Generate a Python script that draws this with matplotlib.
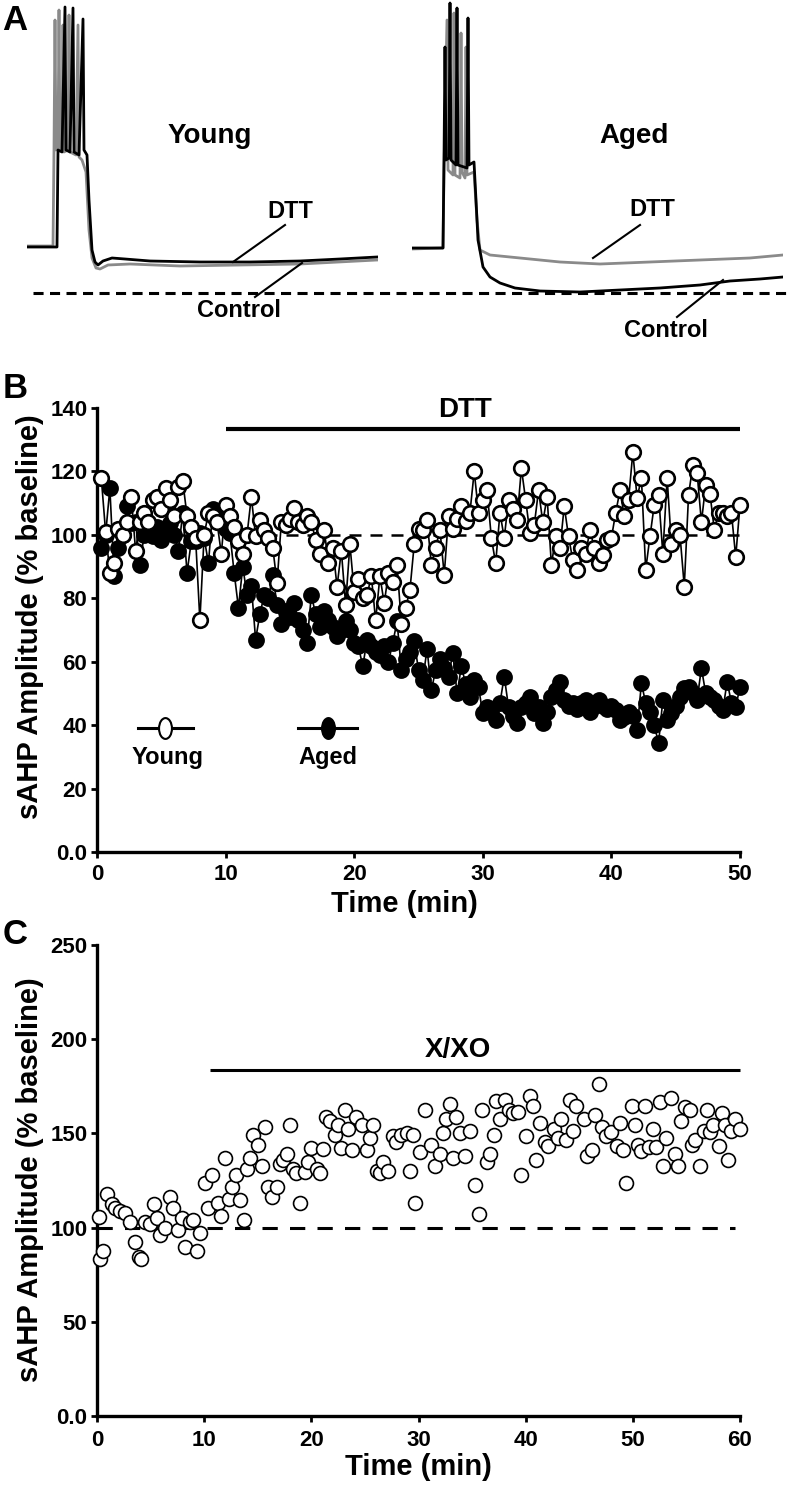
import numpy as np
import matplotlib
matplotlib.use('Agg')
import matplotlib.pyplot as plt
from matplotlib.lines import Line2D
from matplotlib.path import Path
from matplotlib.transforms import Affine2D

plt.rcParams['font.family'] = ['Liberation Sans', 'DejaVu Sans']
plt.rcParams['font.weight'] = 'bold'

# ---------------- Panel A: example traces (time in ms, membrane potential in mV) ----
young_dtt_t = [0, 150, 155, 175, 190, 195, 215, 230, 235, 260, 280, 285, 300, 310, 325,
               340, 355, 380, 425, 490, 615, 865, 1115, 1365, 1565, 1750]
young_dtt_v = [-60, -60, -35.75, -36.25, 0, -35.75, -36.25, -0.25, -36.25, -37, -3, -35.75,
               -37, -48.25, -60.75, -63.75, -64.5, -63.5, -62.75, -63, -63.5, -63.75,
               -63.75, -63.5, -63, -62.5]
young_ctrl_t = [0, 130, 135, 140, 145, 155, 160, 165, 175, 180, 185, 205, 210, 215, 245,
                255, 260, 275, 295, 310, 325, 345, 365, 405, 515, 765, 1065, 1365, 1750]
young_ctrl_v = [-59.75, -59.75, -35.75, -3.25, -35.75, -35.25, -0.75, -35.75, -35.75, -4.5,
                -36.25, -35.75, -2, -36.25, -37, -4.5, -37.5, -38.25, -41.25, -55.75,
                -62.75, -65.25, -65.5, -64.5, -64.25, -64.75, -64.5, -64.25, -63.25]
aged_ctrl_t = [0, 155, 160, 165, 170, 185, 190, 195, 220, 225, 230, 275, 280, 285, 310,
               320, 330, 355, 390, 440, 515, 640, 840, 1040, 1240, 1440, 1590, 1740, 1855]
aged_ctrl_v = [-60, -60, -38, -9.75, -38, -37.5, 1.25, -38, -39.25, 0, -39.25, -40, -2.5,
               -39.25, -38.5, -48, -58, -64.75, -67.25, -68.75, -70, -70.75, -71, -70.5,
               -70, -69.25, -68.25, -67.75, -67.25]
aged_dtt_t = [0, 155, 160, 175, 180, 205, 210, 215, 240, 245, 250, 265, 270, 275, 310,
              325, 340, 390, 540, 740, 940, 1190, 1440, 1690, 1855]
aged_dtt_v = [-60.25, -60, -40.5, -3, -40.5, -41.75, -1.25, -41.75, -42.5, -6.25, -41,
              -42.5, -9.75, -41.75, -41, -53, -60.5, -61.75, -62.5, -63.5, -64, -63.5,
              -63, -62.5, -61.75]

# ---------------- Panel B: sAHP amplitude (% baseline), DTT ----------------
time_b = np.arange(1, 151) / 3.0
young_b = [118, 101, 88, 91, 102, 100, 104, 112, 95, 104,
           107, 104, 111, 112, 108, 114.7, 111, 106, 115, 117,
           106, 102.6, 99, 73, 100, 107, 106, 104, 94, 109.5,
           106, 102.6, 98, 94, 100, 112, 99.5, 104.7, 101.6, 99,
           96, 84.8, 104, 103, 105, 108.4, 104, 103, 105.8, 104,
           98.4, 94, 101.6, 91, 96, 83.7, 95, 78, 97, 82,
           86, 80, 81, 87, 73, 87, 78.4, 88, 85, 90.5,
           72, 77, 82.6, 97, 102, 101.6, 104.7, 90.5, 96, 101.6,
           87.4, 105.8, 102, 105, 109, 104.5, 107, 120, 107, 111,
           114, 99, 91, 107, 99, 111, 108, 104.7, 121, 111,
           100.5, 103, 114, 104, 112, 90.5, 99.5, 95.8, 109, 99.5,
           92, 89, 95.8, 94, 101.6, 95.8, 91, 93.7, 98.4, 99,
           107, 114, 106, 111, 126, 111.6, 118, 89, 99.5, 109.5,
           112.6, 94, 118, 97, 101.6, 100, 83.7, 112.6, 122, 119.5,
           104, 115.8, 113, 101.6, 107, 107, 105.8, 107, 93, 109.5]
aged_b = [96, 100, 114.7, 87, 96, 100, 109, 103.7, 104, 90.5,
          100, 101.6, 99.5, 102.6, 98.4, 100.5, 103.7, 100, 95, 107,
          88, 98, 98, 100.5, 99, 91, 108, 107, 104.7, 102,
          100.5, 88, 77, 90, 81, 84, 67, 75, 81, 80,
          87.4, 78, 72, 76, 74, 78.4, 73, 70, 66, 81,
          75, 71, 76, 73, 71, 68, 70, 72.7, 70, 66,
          64.8, 58.5, 67, 65, 63, 62, 64.8, 60, 66, 72.7,
          57.4, 61, 63, 66.4, 57.4, 54.3, 64, 51, 57.4, 61,
          58, 55.3, 62.7, 50, 58.5, 53, 49, 54.3, 52, 43.7,
          45.8, 44, 41.6, 47, 55.3, 45.8, 43, 40.6, 45.8, 47,
          49, 43.7, 45.8, 40.6, 44, 49, 51, 53.7, 48, 46,
          47, 45, 47, 48, 44, 46, 48, 46, 45, 46,
          44.8, 41.6, 42.7, 44, 43, 38.5, 53.2, 47, 44, 40,
          34.3, 48, 41.6, 43.7, 46, 49, 51.6, 52, 50, 48,
          58, 50, 49, 48, 46, 44.8, 53.7, 47, 45.8, 52]
xticks_b = [0, 10, 20, 30, 40, 50]
yticks_b = [0, 20, 40, 60, 80, 100, 120, 140]
yticklabels_b = ['0.0', '20', '40', '60', '80', '100', '120', '140']
dtt_window = [10, 50]

# ---------------- Panel C: sAHP amplitude (% baseline), X/XO ----------------
time_c = [0.2, 0.3, 0.6, 0.9, 1.4, 1.7, 2.1, 2.6, 3.1, 3.5, 3.9, 4.1, 4.5, 4.9, 5.3, 5.6,
          5.9, 6.3, 6.8, 7.1, 7.6, 7.9, 8.2, 8.7, 9.0, 9.3, 9.6, 10.1, 10.4, 10.7, 11.3,
          11.6, 11.9, 12.3, 12.6, 13.0, 13.3, 13.7, 14.0, 14.3, 14.6, 15.0, 15.4, 15.7,
          16.0, 16.3, 16.8, 17.1, 17.4, 17.7, 18.0, 18.3, 18.6, 18.9, 19.4, 19.7, 20.0,
          20.5, 20.8, 21.1, 21.4, 21.7, 22.2, 22.5, 22.8, 23.1, 23.4, 23.8, 24.2, 24.7,
          25.2, 25.5, 25.8, 26.1, 26.4, 26.7, 27.2, 27.6, 27.9, 28.4, 28.9, 29.2, 29.5,
          29.7, 30.1, 30.6, 31.2, 31.5, 32.0, 32.3, 32.6, 32.9, 33.2, 33.5, 33.9, 34.3,
          34.8, 35.3, 35.6, 35.9, 36.4, 36.7, 37.0, 37.2, 37.6, 38.1, 38.4, 38.8, 39.3,
          39.6, 40.0, 40.4, 40.7, 41.0, 41.3, 41.8, 42.1, 42.6, 43.0, 43.3, 43.8, 44.1,
          44.4, 44.7, 45.4, 45.7, 46.2, 46.5, 46.8, 47.1, 47.5, 48.0, 48.5, 48.8, 49.1,
          49.4, 49.9, 50.2, 50.5, 50.8, 51.1, 51.5, 51.9, 52.2, 52.5, 52.8, 53.1, 53.6,
          53.9, 54.2, 54.5, 54.9, 55.3, 55.5, 55.8, 56.3, 56.6, 56.9, 57.2, 57.5, 58.0,
          58.3, 58.6, 58.9, 59.2, 59.5, 60.0]
xxo_c = [105.6, 83.5, 87.7, 117.9, 112.3, 110.3, 108.8, 107.7, 103.1, 92.3, 84.6, 83.5,
         103.1, 102.1, 112.3, 105.1, 95.9, 100, 116.5, 110.3, 98.8, 105.1, 89.6, 103.1,
         104.1, 87.7, 96.9, 123.7, 110.3, 127.8, 113.3, 106.1, 137.1, 115.4, 121.6, 127.8,
         114.4, 104.1, 130.9, 137.1, 149.3, 144.1, 132.9, 153.4, 121.6, 116.5, 121.6, 134,
         136, 139.1, 154.5, 130.9, 128.8, 113.3, 129.5, 134.9, 142.1, 130.9, 129, 141.8,
         158.6, 156.6, 149.3, 154.5, 142.1, 162.6, 152.4, 141.2, 158.6, 154.5, 141.2,
         147.3, 154.5, 129.8, 129, 134.9, 129.8, 148.4, 145.2, 149.3, 150.3, 129.8, 149.3,
         113.3, 140.1, 162.6, 144.1, 132.9, 139.1, 150.3, 157.5, 165.8, 137, 158.6, 150.3,
         138, 151.4, 122.6, 107.2, 162.6, 134.9, 139.1, 149.3, 167.3, 157.5, 167.9, 162.6,
         160.7, 161.5, 127.8, 148.4, 169.9, 164.8, 136, 155.6, 145.2, 143.2, 152.4, 147.3,
         157.5, 146.4, 167.9, 151.4, 164.8, 157.5, 138, 141.2, 159.6, 176.1, 153.4, 148.4,
         151, 143.2, 155.6, 141.2, 123.7, 164.8, 154.5, 144.1, 140.6, 164.8, 142.9, 152.4,
         142.9, 166.8, 132.9, 147.3, 168.9, 139.1, 132.9, 156.6, 163.8, 162.6, 144.1,
         146.4, 132.9, 151.4, 162.6, 151, 154.5, 143.2, 160.7, 154.5, 136, 151.4, 157.5,
         152.4]
xticks_c = [0, 10, 20, 30, 40, 50, 60]
yticks_c = [0, 50, 100, 150, 200, 250]
yticklabels_c = ['0.0', '50', '100', '150', '200', '250']
xxo_window = [10.5, 60]

# ---------------- Figure ----------------
W, H = 792, 1489
fig = plt.figure(figsize=(W / 100, H / 100), dpi=100)


def fx(px):
    return px / W


def fy(py):
    return 1 - py / H


GRAY = '#8a8a8a'

# Panel A axes
axAy = fig.add_axes([fx(27), fy(340), fx(378) - fx(27), 340 / H])
axAy.set_xlim(0, 1755)
axAy.set_ylim(-83.25, 1.75)
axAy.axis('off')
axAy.plot(young_ctrl_t, young_ctrl_v, color=GRAY, lw=2.0, solid_joinstyle='round')
axAy.plot(young_dtt_t, young_dtt_v, color='black', lw=2.0, solid_joinstyle='round')

axAa = fig.add_axes([fx(412), fy(340), fx(783) - fx(412), 340 / H])
axAa.set_xlim(0, 1855)
axAa.set_ylim(-83, 2)
axAa.axis('off')
axAa.plot(aged_dtt_t, aged_dtt_v, color=GRAY, lw=2.0, solid_joinstyle='round')
axAa.plot(aged_ctrl_t, aged_ctrl_v, color='black', lw=2.0, solid_joinstyle='round')

fig.add_artist(Line2D([fx(33), fx(790)], [fy(293), fy(293)], transform=fig.transFigure,
                      color='black', lw=2.2, linestyle=(0, (3.3, 2.1))))

for (x0, y0, x1, y1) in [(285, 225, 233, 262), (255, 297, 302, 263),
                         (640, 225, 593, 258), (677, 317, 723, 280)]:
    fig.add_artist(Line2D([fx(x0), fx(x1)], [fy(y0), fy(y1)], transform=fig.transFigure,
                          color='black', lw=1.5))

fig.text(fx(210), fy(143), 'Young', ha='center', va='baseline', fontsize=20, fontweight='bold')
fig.text(fx(634), fy(143), 'Aged', ha='center', va='baseline', fontsize=20, fontweight='bold')
fig.text(fx(290), fy(218), 'DTT', ha='center', va='baseline', fontsize=17, fontweight='bold')
fig.text(fx(239), fy(317), 'Control', ha='center', va='baseline', fontsize=17, fontweight='bold')
fig.text(fx(652), fy(216), 'DTT', ha='center', va='baseline', fontsize=17, fontweight='bold')
fig.text(fx(666), fy(337), 'Control', ha='center', va='baseline', fontsize=17, fontweight='bold')

# panel letters
fig.text(fx(15), fy(20), 'A', ha='center', va='center', fontsize=25, fontweight='bold')
fig.text(fx(15), fy(388), 'B', ha='center', va='center', fontsize=25, fontweight='bold')
fig.text(fx(15), fy(935), 'C', ha='center', va='center', fontsize=25, fontweight='bold')


def style_axis(ax, xpad):
    for s in ['top', 'right']:
        ax.spines[s].set_visible(False)
    for s in ['left', 'bottom']:
        ax.spines[s].set_linewidth(2.4)
    ax.tick_params(direction='out', length=4, width=2, labelsize=16)
    ax.tick_params(axis='x', pad=xpad)
    ax.tick_params(axis='y', pad=3)
    for lab in ax.get_xticklabels() + ax.get_yticklabels():
        lab.set_fontweight('bold')


# Panel B
axB = fig.add_axes([fx(97), fy(852), fx(740) - fx(97), (852 - 408) / H])
axB.set_xlim(0, 50)
axB.set_ylim(0, 140)
axB.set_xticks(xticks_b)
axB.set_yticks(yticks_b)
axB.set_yticklabels(yticklabels_b)
style_axis(axB, 5)
axB.plot([0, 50.6], [100, 100], color='black', lw=1.8, linestyle=(0, (4.8, 3.6)),
         clip_on=False, zorder=1)
axB.plot(time_b, aged_b, '-o', color='black', lw=1.2, ms=10.5, mfc='black', mec='black',
         mew=1.6, clip_on=False, zorder=2)
axB.plot(time_b, young_b, '-o', color='black', lw=1.2, ms=10.5, mfc='white', mec='black',
         mew=1.9, clip_on=False, zorder=3)
axB.plot(dtt_window, [133.5, 133.5], color='black', lw=3, solid_capstyle='butt',
         clip_on=False)
axB.text(28.6, 139.3, 'DTT', ha='center', va='center', fontsize=20, fontweight='bold')

# Legend drawn manually in axes fraction
ell = Path.unit_circle().transformed(Affine2D().scale(0.62, 1.0))
axB.plot([0.064, 0.149], [0.279, 0.279], color='black', lw=2.2, transform=axB.transAxes,
         clip_on=False)
axB.plot([0.106], [0.279], marker=ell, ms=15, mfc='white', mec='black', mew=1.5,
         transform=axB.transAxes, clip_on=False)
axB.text(0.110, 0.212, 'Young', ha='center', va='center', fontsize=17, fontweight='bold',
         transform=axB.transAxes)
axB.plot([0.312, 0.404], [0.279, 0.279], color='black', lw=2.2, transform=axB.transAxes,
         clip_on=False)
axB.plot([0.359], [0.279], marker=ell, ms=15, mfc='black', mec='black', mew=1.5,
         transform=axB.transAxes, clip_on=False)
axB.text(0.359, 0.212, 'Aged', ha='center', va='center', fontsize=17, fontweight='bold',
         transform=axB.transAxes)

fig.text(fx(30), fy(617), 'sAHP Amplitude (% baseline)', rotation=90, ha='center',
         va='center', fontsize=21, fontweight='bold')
fig.text(fx(404), fy(904), 'Time (min)', ha='center', va='center', fontsize=21,
         fontweight='bold')

# Panel C
axC = fig.add_axes([fx(97), fy(1416), fx(740) - fx(97), (1416 - 945) / H])
axC.set_xlim(0, 60)
axC.set_ylim(0, 250)
axC.set_xticks(xticks_c)
axC.set_yticks(yticks_c)
axC.set_yticklabels(yticklabels_c)
style_axis(axC, 6)
axC.plot([0, 59.5], [100, 100], color='black', lw=2.2, linestyle=(0, (5, 4)),
         clip_on=False, zorder=1)
axC.plot(time_c, xxo_c, 'o', ms=10, mfc='white', mec='black', mew=1.2, clip_on=False,
         zorder=3)
axC.plot(xxo_window, [183.6, 183.6], color='black', lw=2.2, solid_capstyle='butt',
         clip_on=False)
axC.text(33.7, 194.5, 'X/XO', ha='center', va='center', fontsize=20, fontweight='bold')

fig.text(fx(30), fy(1180), 'sAHP Amplitude (% baseline)', rotation=90, ha='center',
         va='center', fontsize=21, fontweight='bold')
fig.text(fx(418), fy(1467), 'Time (min)', ha='center', va='center', fontsize=21,
         fontweight='bold')

fig.savefig('out.png', dpi=100)
